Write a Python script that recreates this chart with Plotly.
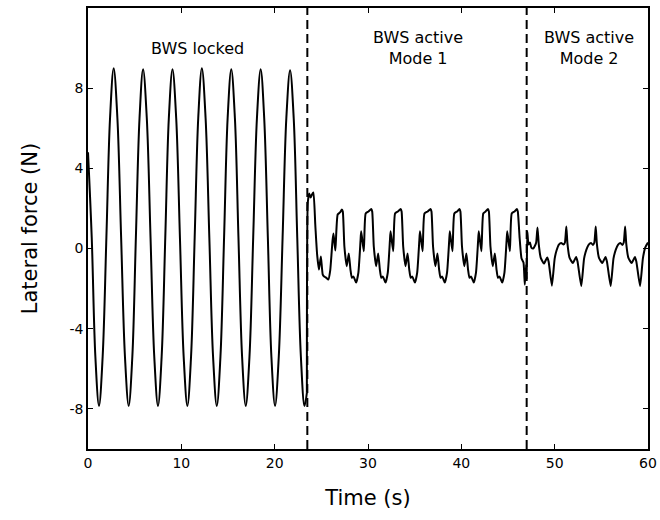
import plotly.graph_objects as go

# ---- data ----
# BWS locked (0 - 23.5 s)
t_locked = [0.0, 0.4, 0.79, 1.18, 1.57, 1.97, 2.36, 2.75, 3.15, 3.55, 3.96, 4.36,
            4.75, 5.13, 5.52, 5.9, 6.3, 6.7, 7.1, 7.5, 7.89, 8.28, 8.66, 9.05,
            9.45, 9.85, 10.25, 10.65, 11.04, 11.43, 11.81, 12.2, 12.6, 13.0, 13.4,
            13.8, 14.19, 14.58, 14.96, 15.35, 15.74, 16.12, 16.51, 16.9, 17.3,
            17.7, 18.1, 18.5, 18.88, 19.27, 19.65, 20.04, 20.44, 20.85, 21.25,
            21.65, 22.04, 22.42, 22.81, 23.2, 23.45]
f_locked = [4.8, 0.55, -5.4, -7.85, -5.4, 0.55, 6.5, 9.0, 6.5, 0.55, -5.4, -7.85,
            -5.4, 0.55, 6.5, 8.95, 6.5, 0.55, -5.4, -7.85, -5.4, 0.55, 6.5, 8.95,
            6.5, 0.55, -5.4, -7.85, -5.4, 0.55, 6.5, 9.0, 6.5, 0.55, -5.4,
            -7.85, -5.4, 0.55, 6.5, 8.95, 6.5, 0.55, -5.4, -7.85, -5.4,
            0.55, 6.5, 8.95, 6.5, 0.55, -5.4, -7.85, -5.4, 0.55, 6.5,
            8.9, 6.5, 0.55, -5.4, -7.85, -7.2]

# BWS active, Mode 1 (23.5 - 47 s)
t_mode1 = [23.45, 23.55, 23.7, 23.85, 24.0, 24.15, 24.35, 24.55, 24.75, 24.95, 25.15,
           25.3, 25.5, 25.75, 25.95, 26.2, 26.3, 26.5, 26.75, 27.0, 27.2,
           27.3, 27.47, 27.72, 27.94, 28.12, 28.27, 28.45, 28.73, 28.97, 29.2, 29.27,
           29.55, 29.75, 30.05, 30.35,
           30.45, 30.62, 30.87, 31.09, 31.27, 31.42, 31.6, 31.88, 32.12, 32.35, 32.42,
           32.7, 32.9, 33.2, 33.5,
           33.6, 33.77, 34.02, 34.24, 34.42, 34.57, 34.75, 35.03, 35.27, 35.5, 35.57,
           35.85, 36.05, 36.4, 36.7,
           36.8, 36.97, 37.22, 37.44, 37.62, 37.77, 37.95, 38.23, 38.47, 38.7, 38.77,
           39.05, 39.25, 39.55, 39.8,
           39.9, 40.07, 40.32, 40.54, 40.72, 40.87, 41.05, 41.33, 41.57, 41.8, 41.87,
           42.15, 42.35, 42.6, 42.85,
           42.95, 43.12, 43.37, 43.59, 43.77, 43.92, 44.1, 44.38, 44.62, 44.85, 44.92,
           45.2, 45.4, 45.7, 45.95,
           46.05, 46.25, 46.45, 46.66, 46.8, 46.95, 47.0]
f_mode1 = [-7.2, 2.3, 2.75, 2.55, 2.7, 2.8, 1.2, -0.3, -1.05, -0.4, -1.3,
           -1.4, -1.45, -1.55, -1.1, 0.4, 0.75, -0.1, 1.7, 1.8, 1.95,
           1.85, 0.1, -0.88, -0.25, -1.05, -1.46, -1.4, -1.7, -1.2, 0.4, 0.86,
           -0.13, 1.75, 1.85, 1.97,
           1.85, 0.1, -0.88, -0.25, -1.05, -1.46, -1.4, -1.7, -1.2, 0.4, 0.86,
           -0.13, 1.75, 1.85, 1.97,
           1.85, 0.1, -0.88, -0.25, -1.05, -1.46, -1.4, -1.7, -1.2, 0.4, 0.86,
           -0.13, 1.75, 1.85, 1.97,
           1.85, 0.1, -0.88, -0.25, -1.05, -1.46, -1.4, -1.7, -1.2, 0.4, 0.86,
           -0.13, 1.75, 1.85, 1.97,
           1.85, 0.1, -0.88, -0.25, -1.05, -1.46, -1.4, -1.7, -1.2, 0.4, 0.86,
           -0.13, 1.75, 1.85, 1.97,
           1.85, 0.1, -0.88, -0.25, -1.05, -1.46, -1.4, -1.7, -1.2, 0.4, 0.86,
           -0.13, 1.75, 1.85, 1.97,
           1.85, 0.5, -0.5, -0.7, -1.8, -0.8, -1.54]

# BWS active, Mode 2 (47 - 60 s)
t_mode2 = [47.07, 47.2, 47.35, 47.5, 47.7, 47.9, 48.02, 48.16, 48.3, 48.5, 48.85,
           49.2, 49.35, 49.7, 50.0, 50.2, 50.45, 50.7, 50.95, 51.1, 51.25, 51.37,
           51.6, 51.95, 52.3, 52.45, 52.85, 53.15, 53.4, 53.65, 53.9, 54.1, 54.25,
           54.4, 54.52, 54.75, 55.1, 55.45, 55.6, 56.0, 56.3, 56.55, 56.8, 57.05,
           57.25, 57.4, 57.55, 57.67, 57.9, 58.25, 58.6, 58.75, 59.15, 59.45, 59.7,
           60.0]
f_mode2 = [0.85, 0.2, 0.3, 0.05, 0.0, 0.15, 0.3, 1.05, 0.2, -0.45, -0.75,
           -0.45, -0.65, -1.85, -0.5, -0.1, 0.2, 0.28, 0.2, 0.3, 1.1, 0.25,
           -0.47, -0.72, -0.42, -0.65, -1.87, -0.5, -0.05, 0.2, 0.28, 0.18, 0.3,
           1.1, 0.25, -0.47, -0.72, -0.42, -0.65, -1.87, -0.5, -0.05, 0.2, 0.28,
           0.18, 0.3, 1.1, 0.25, -0.47, -0.72, -0.42, -0.65, -1.87, -0.5, 0.05,
           0.3]

phase_boundaries = [23.5, 47.0]
phase_labels = ["BWS locked", "BWS active<br>Mode 1", "BWS active<br>Mode 2"]
label_x = [11.7, 35.4, 53.65]
label_y = [10.0, 10.0, 10.0]

x_ticks = [0, 10, 20, 30, 40, 50, 60]
y_ticks = [-8, -4, 0, 4, 8]
y_tick_text = ["-8", "-4", "0", "4", "8"]

FONT = "DejaVu Sans"

fig = go.Figure()
fig.add_trace(go.Scatter(x=t_locked, y=f_locked, mode="lines",
                         line=dict(color="black", width=2, shape="spline", smoothing=1.0),
                         showlegend=False, hoverinfo="skip"))
fig.add_trace(go.Scatter(x=t_mode1 + t_mode2, y=f_mode1 + f_mode2, mode="lines",
                         line=dict(color="black", width=2, shape="spline", smoothing=0.5),
                         showlegend=False, hoverinfo="skip"))

for xb in phase_boundaries:
    fig.add_shape(type="line", x0=xb, x1=xb, y0=0, y1=1, xref="x", yref="paper",
                  line=dict(color="black", width=2, dash="9px,5px"))

for txt, lx, ly in zip(phase_labels, label_x, label_y):
    fig.add_annotation(x=lx, y=ly, text=txt, showarrow=False,
                       font=dict(family=FONT, size=16, color="black"),
                       align="center", xanchor="center", yanchor="middle")

axis_common = dict(showline=True, linecolor="black", linewidth=1.5, mirror="ticks",
                   ticks="inside", ticklen=5, tickwidth=1, tickcolor="black",
                   showgrid=False, zeroline=False, automargin=False,
                   ticklabeloverflow="allow",
                   tickfont=dict(family=FONT, size=14, color="black"))

fig.update_xaxes(range=[0, 60], tickvals=x_ticks,
                 title=dict(text="Time (s)", font=dict(family=FONT, size=21, color="black"),
                            standoff=21),
                 **axis_common)
fig.update_yaxes(range=[-10, 12], tickvals=y_ticks, ticktext=y_tick_text,
                 title=dict(text="Lateral force (N)", font=dict(family=FONT, size=21, color="black"),
                            standoff=26),
                 **axis_common)

fig.update_layout(width=660, height=520, plot_bgcolor="white", paper_bgcolor="white",
                  margin=dict(l=88, r=12, t=8, b=71, autoexpand=False))

fig.write_html("out.html")
